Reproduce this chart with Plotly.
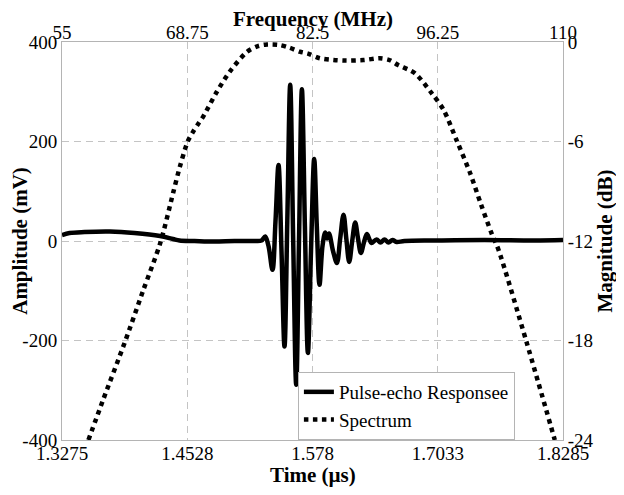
import plotly.graph_objects as go

# ---- Pulse-echo response (time domain) ----
time_us = [1.3275, 1.335, 1.350, 1.3755, 1.400, 1.4255, 1.4385, 1.445, 1.460, 1.480, 1.500, 1.520,
           1.5270, 1.5307, 1.5340, 1.5380, 1.5410, 1.5440, 1.5470, 1.5500, 1.5528, 1.5557, 1.5587,
           1.5617, 1.5645, 1.5674, 1.5704, 1.5734, 1.5765, 1.5797, 1.5823, 1.5850, 1.5880, 1.5907,
           1.5925, 1.5945, 1.5985, 1.6024, 1.6057, 1.6090, 1.6118, 1.6147, 1.6177, 1.6207, 1.6235,
           1.6264, 1.6294, 1.6324, 1.6350, 1.6370, 1.6420, 1.6460, 1.6500, 1.6540, 1.6580, 1.6620,
           1.6700, 1.7000, 1.7500, 1.8000, 1.8285]
amplitude_mv = [12, 16, 18, 19, 16, 10, 4, 1, 0, -1, 0, 0,
                1, 9, -10, -58, 40, 153, -20, -212, 40, 314, 0,
                -289, 0, 305, 30, -225, -20, 165, 30, -88, -10, 17,
                5, 15, -20, -44, 5, 53, 5, -42, 0, 37, 5,
                -24, -3, 14, 3, -4, 3, -3, 3, -3, 2, -2,
                0, 1, 2, 1, 2]

# ---- Spectrum (frequency domain) ----
freq_mhz = [57.9, 59.5, 61.9, 63.9, 65.8, 67.2, 67.95, 68.8, 69.4, 70.0, 70.5, 72.0, 73.4, 75.3, 76.5,
            77.5, 78.9, 80.0, 81.1, 82.0, 83.3, 84.8, 86.1, 88.1, 89.9, 91.0, 91.9, 93.75, 95.6, 96.9,
            98.3, 99.8, 101.0, 102.2, 102.9, 106.0, 109.1]
magnitude_db = [-24, -21.6, -18.1, -15, -12.1, -9.1, -7.5, -6.0, -5.4, -4.9, -4.5, -3.0, -1.8, -0.6, -0.25,
                -0.15, -0.18, -0.35, -0.58, -0.7, -0.98, -1.08, -1.12, -1.09, -0.98, -1.1, -1.39, -1.89, -3.1, -4.1,
                -5.9, -7.9, -9.8, -11.6, -12.5, -18.1, -24]

time_ticks = [1.3275, 1.4528, 1.578, 1.7033, 1.8285]
time_labels = ["1.3275", "1.4528", "1.578", "1.7033", "1.8285"]
amp_ticks = [-400, -200, 0, 200, 400]
amp_labels = ["-400", "-200", "0", "200", "400"]
freq_ticks = [55, 68.75, 82.5, 96.25, 110]
freq_labels = ["55", "68.75", "82.5", "96.25", "110"]
db_ticks = [-24, -18, -12, -6, 0]
db_labels = ["-24", "-18", "-12", "-6", "0"]

FONT = "Liberation Serif, Times New Roman, Times, serif"
AX = "#b4b4b4"
GRID = "#c4c4c4"

fig = go.Figure()
fig.add_trace(go.Scatter(x=time_us, y=amplitude_mv, mode="lines", name="Pulse-echo Responsee",
                         line=dict(color="black", width=4.5, shape="spline", smoothing=1.0),
                         xaxis="x", yaxis="y"))
fig.add_trace(go.Scatter(x=freq_mhz, y=magnitude_db, mode="lines", name="Spectrum",
                         line=dict(color="black", width=4.5, dash="dot", shape="spline", smoothing=0.8),
                         xaxis="x2", yaxis="y2"))

common = dict(showline=True, linecolor=AX, linewidth=1, ticks="", zeroline=False,
              tickfont=dict(family=FONT, size=19, color="black"), automargin=False)

fig.update_layout(
    width=616, height=487,
    margin=dict(l=54, r=61, t=34, b=55),
    paper_bgcolor="white", plot_bgcolor="white",
    font=dict(family=FONT, size=19, color="black"),
    showlegend=True,
    legend=dict(x=0.904, y=0, xanchor="right", yanchor="bottom",
                bgcolor="white", bordercolor=AX, borderwidth=1,
                font=dict(family=FONT, size=19, color="black"),
                tracegroupgap=0, itemwidth=30),
    xaxis=dict(range=[1.3275, 1.8285], tickvals=time_ticks, ticktext=time_labels,
               showgrid=True, gridcolor=GRID, griddash="7px,5px", gridwidth=1,
               ticklabelstandoff=-4, **common),
    yaxis=dict(range=[-400, 400], tickvals=amp_ticks, ticktext=amp_labels, showgrid=True, gridcolor=GRID,
               griddash="7px,5px", gridwidth=1, ticklabelstandoff=0,
               title=dict(text="<b>Amplitude (mV)</b>", font=dict(family=FONT, size=21), standoff=4),
               **common),
    xaxis2=dict(range=[55, 110], tickvals=freq_ticks, ticktext=freq_labels,
                overlaying="x", side="top", showgrid=False, anchor="y2",
                ticklabelstandoff=-6, **common),
    yaxis2=dict(range=[-24, 0], tickvals=db_ticks, ticktext=db_labels, overlaying="y", side="right",
                showgrid=False, anchor="x2", ticklabelstandoff=0,
                title=dict(text="<b>Magnitude (dB)</b>", font=dict(family=FONT, size=21), standoff=4),
                **common),
    annotations=[
        dict(text="<b>Frequency (MHz)</b>", xref="paper", yref="paper", x=0.5, y=1, yshift=23,
             xanchor="center", yanchor="middle", showarrow=False,
             font=dict(family=FONT, size=21, color="black")),
        dict(text="<b>Time (µs)</b>", xref="paper", yref="paper", x=0.5, y=0, yshift=-35,
             xanchor="center", yanchor="middle", showarrow=False,
             font=dict(family=FONT, size=21, color="black")),
    ],
)

fig.write_html("out.html")
